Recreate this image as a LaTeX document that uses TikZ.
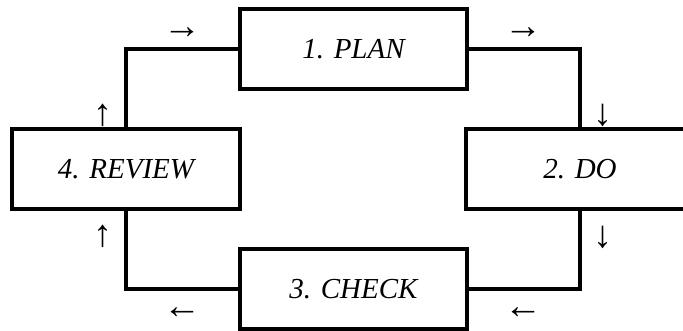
\documentclass[tikz,border=0pt]{standalone}
\usepackage{fontspec}
\setmainfont{Liberation Serif}
\begin{document}
\begin{tikzpicture}[x=1pt,y=-1pt,
  box/.style={draw,line width=3.2pt,minimum width=227pt,minimum height=80pt,inner sep=0pt,font=\fontsize{29}{34}\selectfont\itshape},
  link/.style={line width=3.2pt},
  lbl/.style={font=\fontsize{38}{44}\selectfont,inner sep=0pt}]
\useasboundingbox (0,0) rectangle (683,331);
\clip (0,0) rectangle (683,331);
\node[box] (plan) at (353.5,49) {1. PLAN};
\node[box,minimum width=228pt] (review) at (126,169) {4. REVIEW};
\node[box,minimum width=228pt] (do) at (580,169) {2. DO};
\node[box] (check) at (353.5,289) {3. CHECK};
\draw[link] (plan.west) -| (review.north);
\draw[link] (plan.east) -| (do.north);
\draw[link] (do.south) |- (check.east);
\draw[link] (check.west) -| (review.south);
\node[lbl] (a1) at (182,33) {→};
\node[lbl] (a2) at (523,33) {→};
\node[lbl] (a3) at (603,115) {↓};
\node[lbl] (a4) at (603,237) {↓};
\node[lbl] (a5) at (523,313) {←};
\node[lbl] (a6) at (182,313) {←};
\node[lbl] (a7) at (103,236) {↑};
\node[lbl] (a8) at (103,115) {↑};
\end{tikzpicture}
\end{document}
